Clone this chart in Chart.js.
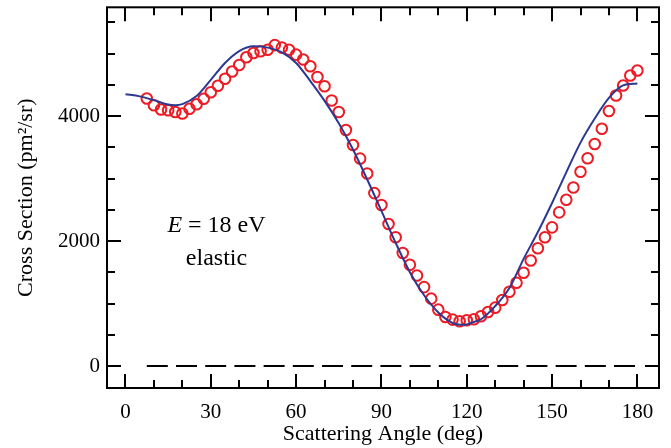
<!DOCTYPE html>
<html>
<head>
<meta charset="utf-8">
<script src="https://cdn.jsdelivr.net/npm/chart.js@4.4.1/dist/chart.umd.min.js"></script>
<style>
  html, body { margin: 0; padding: 0; background: #fff; }
  #wrap { width: 671px; height: 448px; position: relative; }
</style>
</head>
<body>
<div id="wrap"><canvas id="chart"></canvas></div>
<script>
// measured points (circles)
const expAngles = [7.5, 10, 12.5, 15, 17.5, 20, 22.5, 25, 27.5, 30, 32.5, 35, 37.5, 40, 42.5, 45,
  47.5, 50, 52.5, 55, 57.5, 60, 62.5, 65, 67.5, 70, 72.5, 75, 77.5, 80, 82.5, 85, 87.5, 90,
  92.5, 95, 97.5, 100, 102.5, 105, 107.5, 110, 112.5, 115, 117.5, 120, 122.5, 125, 127.5, 130,
  132.5, 135, 137.5, 140, 142.5, 145, 147.5, 150, 152.5, 155, 157.5, 160, 162.5, 165, 167.5,
  170, 172.5, 175, 177.5, 180];
const expValues = [4280, 4172, 4106, 4093, 4066, 4042, 4117, 4190, 4278, 4380, 4486, 4598, 4712,
  4818, 4940, 5009, 5036, 5062, 5135, 5095, 5062, 4983, 4904, 4797, 4626, 4478, 4250, 4064,
  3777, 3538, 3320, 3081, 2768, 2577, 2274, 2061, 1810, 1621, 1450, 1264, 1079, 903, 786, 744,
  717, 733, 749, 797, 866, 935, 1057, 1190, 1333, 1493, 1689, 1885, 2061, 2220, 2459, 2661,
  2857, 3110, 3325, 3554, 3798, 4080, 4330, 4489, 4649, 4728];

// theory (solid line)
const theoryAngles = [0, 5, 10, 15, 17.5, 20, 25, 30, 35, 40, 45, 50, 55, 60, 65, 70, 75, 80,
  85, 90, 95, 100, 105, 110, 115, 118, 120, 122.5, 125, 130, 135, 140, 145, 150, 155, 160, 165,
  170, 175, 180];
const theoryValues = [4350, 4315, 4255, 4185, 4175, 4192, 4320, 4580, 4850, 5040, 5115, 5095,
  5020, 4850, 4560, 4244, 3885, 3465, 2986, 2483, 1972, 1503, 1133, 858, 690, 660, 668, 706,
  750, 960, 1250, 1716, 2145, 2610, 3100, 3575, 3960, 4290, 4490, 4520];

// dashed zero line
const zeroAngles = [7.5, 180];
const zeroValues = [0, 0];

// tick marks and labelled ticks
const xTicks = [0, 10, 20, 30, 40, 50, 60, 70, 80, 90, 100, 110, 120, 130, 140, 150, 160, 170, 180];
const yTicks = [0, 500, 1000, 1500, 2000, 2500, 3000, 3500, 4000, 4500, 5000, 5500];
const xLabels = [0, 30, 60, 90, 120, 150, 180];
const yLabels = [0, 2000, 4000];

const serif = '"Liberation Serif", "Times New Roman", serif';

const toPoints = (xs, ys) => xs.map((v, i) => ({ x: v, y: ys[i] }));

// frame + inward ticks on all four sides
const frame = {
  id: "frame",
  afterDatasetsDraw(chart) {
    const { ctx, chartArea: a, scales: { x, y } } = chart;
    ctx.save();
    ctx.strokeStyle = "#000";
    ctx.lineWidth = 2;
    ctx.beginPath();
    xTicks.forEach((v) => {
      const px = Math.round(x.getPixelForValue(v));
      const len = xLabels.includes(v) ? 14 : 8;
      ctx.moveTo(px, a.bottom); ctx.lineTo(px, a.bottom - len);
      ctx.moveTo(px, a.top); ctx.lineTo(px, a.top + len);
    });
    yTicks.forEach((v) => {
      const py = Math.round(y.getPixelForValue(v));
      const len = yLabels.includes(v) ? 14 : 8;
      ctx.moveTo(a.left, py); ctx.lineTo(a.left + len, py);
      ctx.moveTo(a.right, py); ctx.lineTo(a.right - len, py);
    });
    ctx.stroke();
    ctx.strokeRect(a.left, a.top, a.right - a.left, a.bottom - a.top);
    ctx.restore();
  },
};

// "E = 18 eV / elastic" note
const note = {
  id: "note",
  afterDraw(chart) {
    const { ctx, scales: { x, y } } = chart;
    const cx = x.getPixelForValue(32);
    ctx.save();
    ctx.fillStyle = "#000";
    ctx.textBaseline = "alphabetic";
    ctx.font = "italic 24px " + serif;
    const wE = ctx.measureText("E").width;
    ctx.font = "24px " + serif;
    const rest = " = 18 eV";
    const wR = ctx.measureText(rest).width;
    const x0 = cx - (wE + wR) / 2;
    const y1 = y.getPixelForValue(2151);
    ctx.font = "italic 24px " + serif;
    ctx.fillText("E", x0, y1);
    ctx.font = "24px " + serif;
    ctx.fillText(rest, x0 + wE, y1);
    ctx.textAlign = "center";
    ctx.fillText("elastic", cx, y.getPixelForValue(1610));
    ctx.restore();
  },
};

new Chart(document.getElementById("chart"), {
  type: "scatter",
  data: {
    datasets: [
      {
        label: "theory",
        data: toPoints(theoryAngles, theoryValues),
        showLine: true,
        borderColor: "#2b3990",
        borderWidth: 2,
        pointRadius: 0,
        cubicInterpolationMode: "monotone",
        order: 1,
      },
      {
        label: "experiment",
        data: toPoints(expAngles, expValues),
        showLine: false,
        pointStyle: "circle",
        pointRadius: 5.3,
        borderWidth: 2,
        borderColor: "#ed1c24",
        backgroundColor: "rgba(0,0,0,0)",
        order: 2,
      },
      {
        label: "zero",
        data: toPoints(zeroAngles, zeroValues),
        showLine: true,
        borderColor: "#000",
        borderWidth: 2,
        borderDash: [21, 8.2],
        pointRadius: 0,
        order: 3,
      },
    ],
  },
  options: {
    responsive: true,
    maintainAspectRatio: false,
    animation: false,
    layout: { padding: { left: 0, right: 12, top: 6, bottom: 0 } },
    plugins: { legend: { display: false }, tooltip: { enabled: false } },
    scales: {
      x: {
        type: "linear",
        min: -6.5,
        max: 187.6,
        grid: { display: false, drawTicks: false },
        border: { display: false },
        afterBuildTicks(s) {
          s.ticks = xTicks.map((v) => ({ value: v }));
        },
        ticks: {
          autoSkip: false,
          maxRotation: 0,
          padding: 12,
          color: "#000",
          font: { family: serif, size: 21 },
          callback: (v) => (xLabels.includes(v) ? String(v) : ""),
        },
        title: {
          display: true,
          text: "Scattering Angle (deg)",
          color: "#000",
          font: { family: serif, size: 22 },
          padding: { top: 0, bottom: 1 },
        },
        afterFit(s) {
          s.height = 60;
          s.paddingLeft = 0;
          s.paddingRight = 0;
        },
      },
      y: {
        type: "linear",
        min: -350,
        max: 5740,
        grid: { display: false, drawTicks: false },
        border: { display: false },
        afterBuildTicks(s) {
          s.ticks = yTicks.map((v) => ({ value: v }));
        },
        ticks: {
          autoSkip: false,
          padding: 7,
          color: "#000",
          font: { family: serif, size: 21 },
          callback: (v) => (yLabels.includes(v) ? String(v) : ""),
        },
        title: {
          display: true,
          text: "Cross Section (pm²/sr)",
          color: "#000",
          font: { family: serif, size: 22 },
          padding: { top: 13, bottom: 0 },
        },
        afterFit(s) {
          s.width = 107;
          s.paddingTop = 0;
          s.paddingBottom = 0;
        },
      },
    },
  },
  plugins: [frame, note],
});
</script>
</body>
</html>
